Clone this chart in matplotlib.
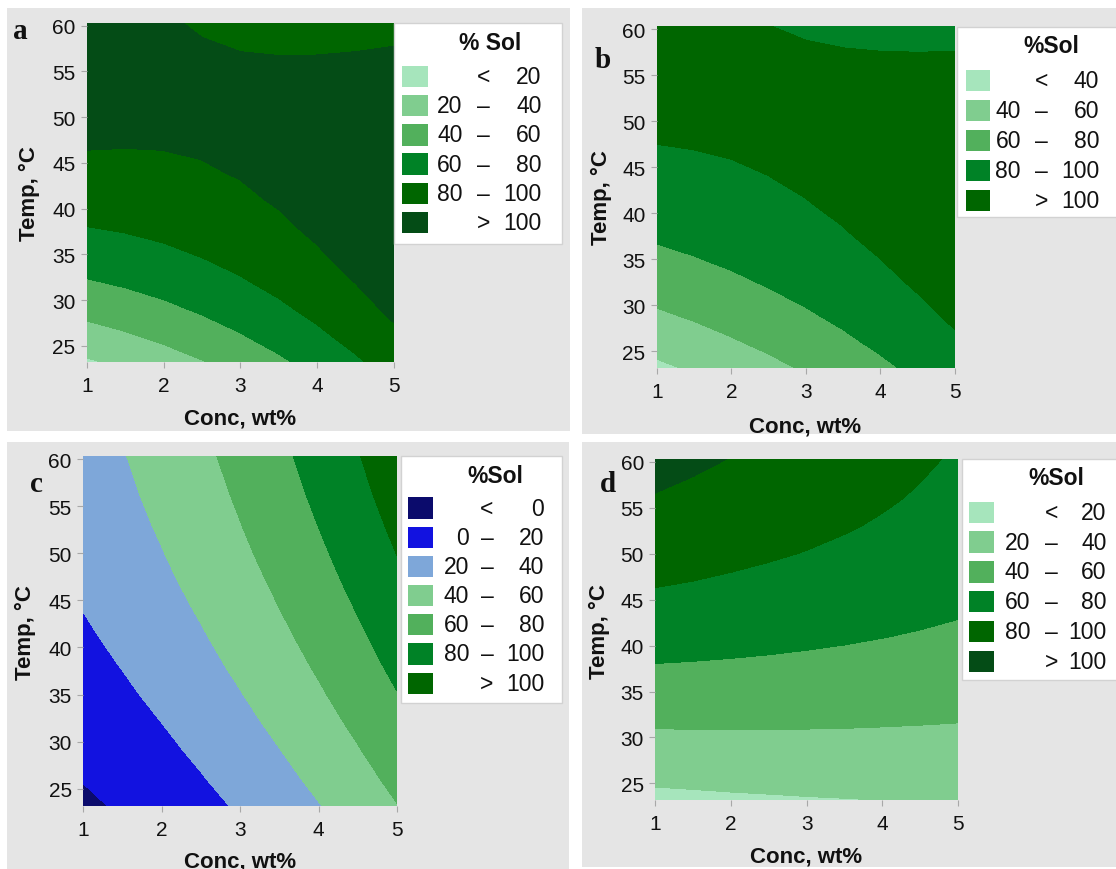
import numpy as np
import matplotlib
matplotlib.use("Agg")
import matplotlib.pyplot as plt
from matplotlib.patches import Rectangle

plt.rcParams['font.family'] = ['Liberation Sans', 'DejaVu Sans']

# ---------------- data ----------------
conc = [1.0, 1.5, 2.0, 2.5, 3.0, 3.5, 4.0, 4.5, 5.0]
temp = [23.2, 26.0, 29.0, 32.0, 35.0, 38.0, 41.0, 44.0, 47.0, 50.0, 53.0, 56.0, 60.3]

sol_a = [
    [17.3, 23.7, 30.9, 38.7, 47.3, 56.5, 66.5, 77.1, 88.5],
    [31.7, 37.3, 43.7, 50.7, 58.4, 66.9, 76.0, 85.8, 96.4],
    [45.8, 50.6, 56.0, 62.2, 69.0, 76.6, 84.8, 93.8, 103.4],
    [58.5, 62.4, 67.0, 72.3, 78.2, 84.9, 92.3, 100.3, 109.1],
    [69.9, 72.9, 76.5, 80.9, 86.0, 91.8, 98.3, 105.5, 113.4],
    [79.8, 81.9, 84.7, 88.2, 92.4, 97.3, 103.0, 109.3, 116.3],
    [88.3, 89.5, 91.5, 94.1, 97.4, 101.5, 106.2, 111.6, 117.7],
    [95.4, 95.8, 96.8, 98.6, 101.0, 104.2, 108.0, 112.6, 117.8],
    [101.1, 100.6, 100.8, 101.7, 103.2, 105.5, 108.5, 112.1, 116.5],
    [105.4, 104.0, 103.3, 103.3, 104.0, 105.4, 107.5, 110.3, 113.8],
    [108.4, 106.1, 104.5, 103.6, 103.4, 103.9, 105.2, 107.1, 109.7],
    [109.9, 106.7, 104.3, 102.5, 101.4, 101.1, 101.4, 102.4, 104.2],
    [109.6, 105.2, 101.5, 98.5, 96.1, 94.5, 93.6, 93.3, 93.8],
]
sol_b = [
    [36.1, 42.2, 48.5, 55.0, 61.9, 68.9, 76.3, 83.9, 91.7],
    [47.0, 52.4, 58.1, 64.0, 70.2, 76.6, 83.4, 90.3, 97.5],
    [57.6, 62.3, 67.3, 72.6, 78.1, 83.9, 89.9, 96.2, 102.8],
    [67.2, 71.2, 75.6, 80.2, 85.0, 90.1, 95.4, 101.1, 106.9],
    [75.7, 79.1, 82.8, 86.7, 90.8, 95.3, 99.9, 104.9, 110.1],
    [83.2, 85.9, 88.9, 92.1, 95.6, 99.4, 103.4, 107.6, 112.2],
    [89.7, 91.7, 94.0, 96.6, 99.4, 102.4, 105.8, 109.4, 113.2],
    [95.1, 96.4, 98.1, 99.9, 102.1, 104.5, 107.1, 110.0, 113.2],
    [99.4, 100.1, 101.1, 102.3, 103.7, 105.4, 107.4, 109.7, 112.2],
    [102.8, 102.8, 103.1, 103.6, 104.4, 105.4, 106.7, 108.3, 110.1],
    [105.1, 104.4, 104.0, 103.8, 103.9, 104.3, 104.9, 105.8, 107.0],
    [106.3, 105.0, 103.9, 103.1, 102.5, 102.2, 102.1, 102.3, 102.8],
    [106.3, 103.9, 101.9, 100.1, 98.6, 97.3, 96.3, 95.5, 95.0],
]
sol_c = [
    [-3.2, 1.9, 7.9, 14.6, 22.0, 30.2, 39.2, 49.0, 59.5],
    [0.5, 5.8, 11.9, 18.8, 26.4, 34.8, 43.9, 53.8, 64.5],
    [4.2, 9.7, 16.0, 23.0, 30.8, 39.4, 48.7, 58.8, 69.7],
    [7.8, 13.5, 19.9, 27.1, 35.1, 43.9, 53.3, 63.6, 74.6],
    [11.2, 17.0, 23.7, 31.0, 39.2, 48.1, 57.8, 68.2, 79.4],
    [14.3, 20.4, 27.2, 34.7, 43.1, 52.2, 62.0, 72.6, 84.0],
    [17.3, 23.5, 30.5, 38.2, 46.7, 56.0, 66.0, 76.8, 88.4],
    [20.1, 26.5, 33.6, 41.5, 50.2, 59.7, 69.9, 80.8, 92.5],
    [22.7, 29.2, 36.6, 44.6, 53.5, 63.1, 73.5, 84.6, 96.5],
    [25.0, 31.8, 39.3, 47.5, 56.6, 66.4, 76.9, 88.2, 100.3],
    [27.2, 34.1, 41.8, 50.3, 59.5, 69.4, 80.2, 91.6, 103.9],
    [29.2, 36.3, 44.1, 52.8, 62.1, 72.3, 83.2, 94.9, 107.3],
    [31.7, 39.0, 47.1, 56.0, 65.6, 76.0, 87.2, 99.1, 111.8],
]
sol_d = [
    [15.2, 16.2, 17.2, 18.0, 18.8, 19.4, 20.0, 20.4, 20.8],
    [24.5, 25.2, 25.9, 26.4, 26.8, 27.1, 27.4, 27.5, 27.5],
    [34.0, 34.4, 34.7, 34.9, 35.0, 35.0, 34.9, 34.7, 34.4],
    [43.1, 43.1, 43.1, 43.0, 42.7, 42.4, 41.9, 41.4, 40.8],
    [51.7, 51.4, 51.0, 50.5, 50.0, 49.3, 48.5, 47.6, 46.7],
    [59.8, 59.2, 58.5, 57.7, 56.8, 55.8, 54.6, 53.4, 52.1],
    [67.5, 66.6, 65.5, 64.4, 63.1, 61.8, 60.3, 58.8, 57.1],
    [74.7, 73.4, 72.1, 70.6, 69.0, 67.3, 65.5, 63.6, 61.7],
    [81.5, 79.9, 78.1, 76.3, 74.4, 72.4, 70.3, 68.1, 65.7],
    [87.8, 85.8, 83.8, 81.6, 79.4, 77.0, 74.6, 72.0, 69.4],
    [93.6, 91.3, 88.9, 86.4, 83.9, 81.2, 78.4, 75.5, 72.5],
    [99.0, 96.4, 93.6, 90.8, 87.9, 84.9, 81.7, 78.5, 75.2],
    [105.9, 102.8, 99.6, 96.3, 92.9, 89.4, 85.8, 82.1, 78.3],
]

levels_a = [20, 40, 60, 80, 100]
levels_b = [40, 60, 80, 100]
levels_c = [0, 20, 40, 60, 80, 100]
levels_d = [20, 40, 60, 80, 100]

x_ticks = [1, 2, 3, 4, 5]
y_ticks = [25, 30, 35, 40, 45, 50, 55, 60]

# ---------------- styles ----------------
G0, G1, G2, G3, G4, G5 = '#a6e5bc', '#80cd8f', '#52b05c', '#008226', '#006600', '#044c16'
B0, B1, B2 = '#0b0b6c', '#1212e0', '#7ea7d9'
colors_a = [G0, G1, G2, G3, G4, G5]
colors_b = [G0, G1, G2, G3, G4]
colors_c = [B0, B1, B2, G1, G2, G3, G4]
colors_d = [G0, G1, G2, G3, G4, G5]

W, H = 1116, 870
fig = plt.figure(figsize=(W / 100, H / 100), dpi=100)

bg = fig.add_axes([0, 0, 1, 1], zorder=0)
bg.set_xlim(0, W); bg.set_ylim(H, 0); bg.axis('off')
ov = fig.add_axes([0, 0, 1, 1], zorder=5)
ov.set_xlim(0, W); ov.set_ylim(H, 0); ov.axis('off'); ov.patch.set_alpha(0)

GRAY = '#e5e5e5'
panels = [
    # name, data, levels, colors, bg rect, axes rect (L,T,R,B), title, legend geometry
    dict(tag='a', z=sol_a, lev=levels_a, col=colors_a, bg=(7.3, 9, 570, 431.7),
         ax=(86.7, 24, 394, 363.3), title='% Sol',
         box=(394, 24, 562.3, 245), tpos=(490, 43.3), px=(402.3, 427.7), row0=77.2, pitch=29.3,
         Lx=462.7, Dx=483.5, Rx=541.7, lab=(20, 31.7), ylab=(29, 194), xlab=(240, 419.3)),
    dict(tag='b', z=sol_b, lev=levels_b, col=colors_b, bg=(581.7, 9, 1116, 435),
         ax=(656.7, 27.3, 955, 369), title='%Sol',
         box=(957.3, 28.3, 1120, 218.3), tpos=(1051.7, 46.7), px=(965.7, 990), row0=81.7, pitch=29.9,
         Lx=1021, Dx=1041.5, Rx=1099.3, lab=(602.5, 60), ylab=(601, 198), xlab=(805, 426.7)),
    dict(tag='c', z=sol_c, lev=levels_c, col=colors_c, bg=(7.3, 443.3, 569.3, 872),
         ax=(82.9, 457.3, 397.3, 806.7), title='%Sol',
         box=(400.7, 457.3, 561.7, 704.3), tpos=(495, 476.7), px=(408.3, 433.3), row0=509, pitch=29.2,
         Lx=469.3, Dx=487, Rx=544, lab=(36, 485), ylab=(25.5, 633), xlab=(240, 861.7)),
    dict(tag='d', z=sol_d, lev=levels_d, col=colors_d, bg=(582.3, 443.3, 1116, 868),
         ax=(655, 460, 958.3, 801), title='%Sol',
         box=(961.7, 460, 1120, 681), tpos=(1056.7, 478.3), px=(969, 994), row0=513.3, pitch=29.8,
         Lx=1030, Dx=1051.7, Rx=1106.7, lab=(608, 485), ylab=(599, 632), xlab=(806, 856.7)),
]

TXT = '#111111'
for p in panels:
    x0, y0, x1, y1 = p['bg']
    bg.add_patch(Rectangle((x0, y0), x1 - x0, y1 - y0, facecolor=GRAY, edgecolor='none'))

    L, T, R, B = p['ax']
    ax = fig.add_axes([L / W, 1 - B / H, (R - L) / W, (B - T) / H], zorder=2)
    bounds = [-1e6] + p['lev'] + [1e6]
    cs = ax.contourf(conc, temp, np.array(p['z']), levels=bounds, colors=p['col'])
    cs.set_edgecolor('face')
    cs.set_linewidth(0.4)
    ax.set_xlim(1, 5)
    ax.set_ylim(23.2, 60.3)
    ax.set_xticks(x_ticks)
    ax.set_yticks(y_ticks)
    for s in ax.spines.values():
        s.set_visible(False)
    ax.tick_params(axis='both', length=4, width=0.8, color='#a8a8a8', labelsize=15, labelcolor=TXT)
    ax.tick_params(axis='x', pad=6)
    ax.tick_params(axis='y', pad=4)

    # axis labels and panel tag
    ov.text(*p['xlab'], 'Conc, wt%', ha='center', va='center', fontsize=16, fontweight='bold', color=TXT)
    ov.text(*p['ylab'], 'Temp, °C', ha='center', va='center', fontsize=16, fontweight='bold',
            rotation=90, color=TXT)
    ov.text(*p['lab'], p['tag'], ha='center', va='center', fontsize=21, fontweight='bold',
            family=['Liberation Serif', 'DejaVu Serif'], color=TXT)

    # legend
    bx0, by0, bx1, by1 = p['box']
    ov.add_patch(Rectangle((bx0, by0), bx1 - bx0, by1 - by0, facecolor='white',
                           edgecolor='#d2d2d2', linewidth=1))
    ov.text(*p['tpos'], p['title'], ha='center', va='center', fontsize=16.5, fontweight='bold', color=TXT)
    lev = p['lev']
    rows = [('', '<', str(lev[0]))] + [(str(lev[i]), '–', str(lev[i + 1])) for i in range(len(lev) - 1)] \
        + [('', '>', str(lev[-1]))]
    for k, (left, mid, right) in enumerate(rows):
        yc = p['row0'] + k * p['pitch']
        ov.add_patch(Rectangle((p['px'][0], yc - 10.7), p['px'][1] - p['px'][0], 21.4,
                               facecolor=p['col'][k], edgecolor='none'))
        kw = dict(va='center', fontsize=16.5, color=TXT)
        if left:
            ov.text(p['Lx'], yc, left, ha='right', **kw)
        ov.text(p['Dx'], yc, mid, ha='center', **kw)
        ov.text(p['Rx'], yc, right, ha='right', **kw)

fig.savefig('out.png', dpi=100, facecolor='white')
